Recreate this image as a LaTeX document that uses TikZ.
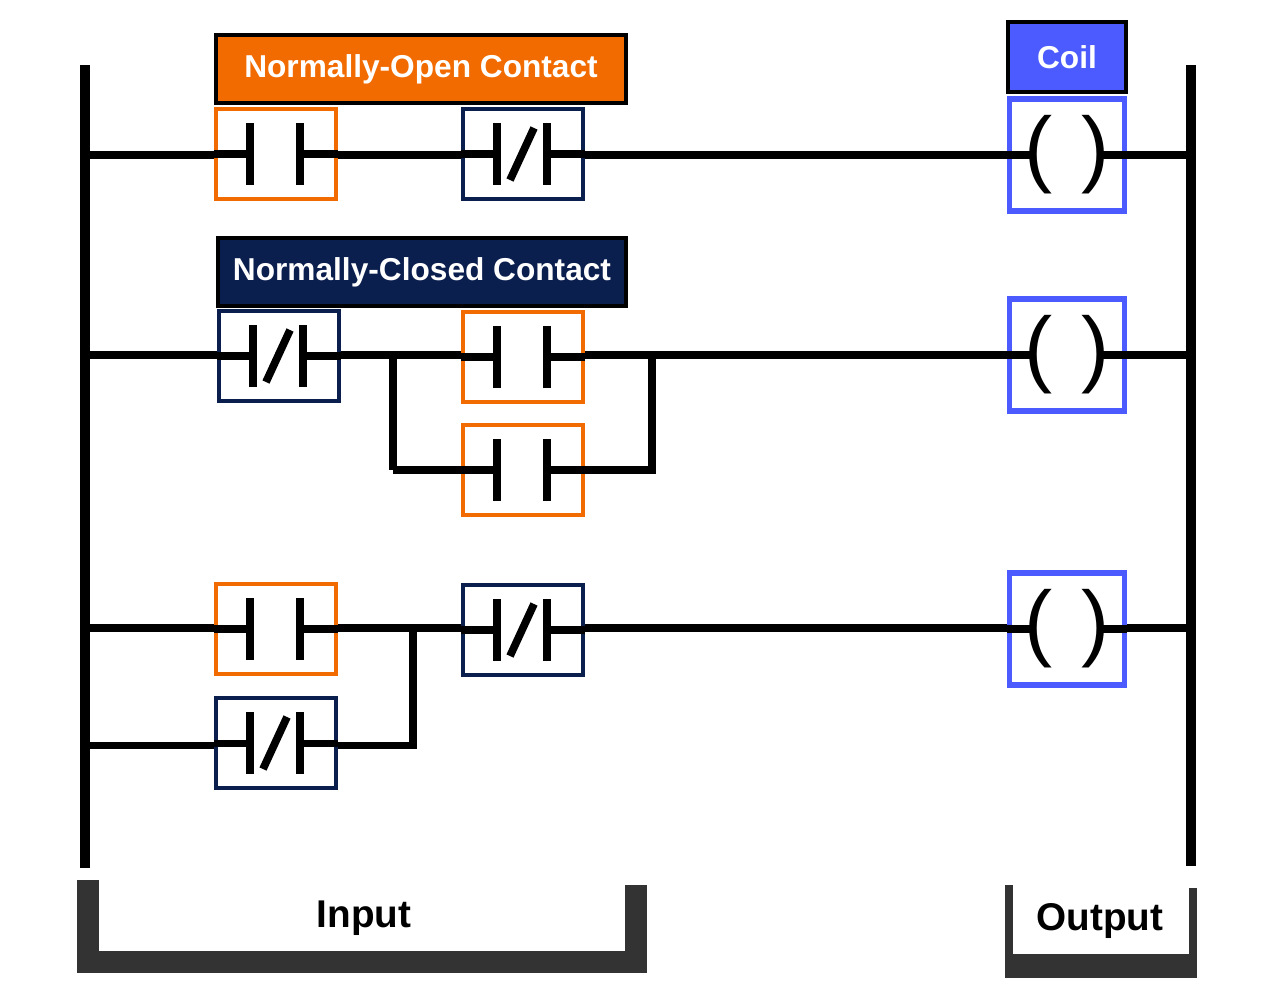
\documentclass[tikz,border=0pt]{standalone}
\usepackage{fontspec}
\setmainfont{Liberation Sans}
\usetikzlibrary{positioning}
\definecolor{noorange}{HTML}{F26B00}
\definecolor{ncnavy}{HTML}{0B1F4F}
\definecolor{coilblue}{HTML}{4B5BFF}
\definecolor{bracketgray}{HTML}{333333}
\tikzset{
  wire/.style={line width=2pt,black},
  rail/.style={line width=2.6pt,black},
  contact/.style={draw,line width=1.3pt,fill=white,minimum width=1.2cm,minimum height=0.9cm,inner sep=0pt},
  coilbox/.style={draw=coilblue,line width=1.5pt,fill=white,minimum width=1.15cm,minimum height=1.12cm,inner sep=0pt,font=\fontsize{24}{24}\selectfont\rmfamily},
  tag/.style={draw=black,line width=1.3pt,text=white,font=\fontsize{9}{10}\selectfont\bfseries,inner sep=0pt},
  bracket/.style={line width=6pt,bracketgray,line join=miter}
}
% contact symbol: bars (and slash) inside a named box
\newcommand{\contactbars}[1]{%
  \draw[line width=2.2pt] ([xshift=-0.26cm,yshift=-0.31cm]#1.center) -- ++(0,-62)
    ([xshift=0.24cm,yshift=-0.31cm]#1.center) -- ++(0,-62);
  \draw[wire] (#1.west) -- ([xshift=-0.26cm]#1.center) ([xshift=0.24cm]#1.center) -- (#1.east);}
\newcommand{\contactslash}[1]{%
  \draw[line width=2.2pt] ([xshift=-0.13cm,yshift=-0.26cm]#1.center) -- ([xshift=0.11cm,yshift=0.26cm]#1.center);}
\begin{document}
\begin{tikzpicture}[x=0.01cm,y=-0.01cm]
\useasboundingbox (0,0) rectangle (1280,1006);
% rails
\draw[rail] (85,65) coordinate (lt) -- (85,868) coordinate (lb);
\draw[rail] (1191,65) coordinate (rt) -- (1191,866) coordinate (rb);
\coordinate (l1) at (85,155); \coordinate (r1) at (1191,155);
\coordinate (l2) at (85,355); \coordinate (r2) at (1191,355);
\coordinate (l3) at (85,628); \coordinate (r3) at (1191,628);
\coordinate (l4) at (85,745);
% rung wires
\draw[wire] (l1) -- (r1);
\draw[wire] (l2) -- (r2);
\draw[wire] (393,470) coordinate (b2l) |- (l2 -| b2l);
\draw[wire] (652,355) coordinate (b2r) |- (b2l);
\draw[wire] (l3) -- (r3);
\draw[wire] (l4) -- (413,745) coordinate (b3) -- (413,628);
% rung 1
\node[contact,draw=noorange] (no1) at (276,154) {};
\node[contact,draw=ncnavy] (nc1) at (523,154) {};
\node[coilbox] (coil1) at (1067,155) {(\,\,)};
% rung 2
\node[contact,draw=ncnavy] (nc2) at (279,356) {};
\node[contact,draw=noorange] (no2) at (523,357) {};
\node[contact,draw=noorange] (no3) at (523,470) {};
\node[coilbox] (coil2) at (1067,355) {(\,\,)};
% rung 3
\node[contact,draw=noorange] (no4) at (276,629) {};
\node[contact,draw=ncnavy] (nc3) at (523,630) {};
\node[contact,draw=ncnavy] (nc4) at (276,743) {};
\node[coilbox] (coil3) at (1067,629) {(\,\,)};
\foreach \c in {no1,nc1,nc2,no2,no3,no4,nc3,nc4} {\contactbars{\c}}
\foreach \c in {nc1,nc2,nc3,nc4} {\contactslash{\c}}
\foreach \c in {coil1,coil2,coil3} {
  \draw[wire] (\c.west) -- ++(28,0) (\c.east) -- ++(-28,0);}
% labels
\node[tag,fill=noorange,minimum width=4.1cm,minimum height=0.68cm] (notag) at (421,69) {Normally-Open Contact};
\node[tag,fill=ncnavy,minimum width=4.08cm,minimum height=0.68cm] (nctag) at (422,272) {Normally-Closed Contact};
\node[tag,fill=coilblue,minimum width=1.18cm,minimum height=0.7cm] (coiltag) at (1067,57) {Coil};
% brackets
\draw[bracket] (88,880) -- (88,962) -- (636,962) -- (636,885);
\draw[line width=2.3pt,bracketgray] (1009,885) -- (1009,966) (1193,888) -- (1193,966);
\draw[line width=7pt,bracketgray] (1005,966) -- (1197,966);
\node[font=\fontsize{11}{12}\selectfont\bfseries] (intxt) at (364,918) {Input};
\node[font=\fontsize{11}{12}\selectfont\bfseries] (outtxt) at (1100,921) {Output};
\end{tikzpicture}
\end{document}
